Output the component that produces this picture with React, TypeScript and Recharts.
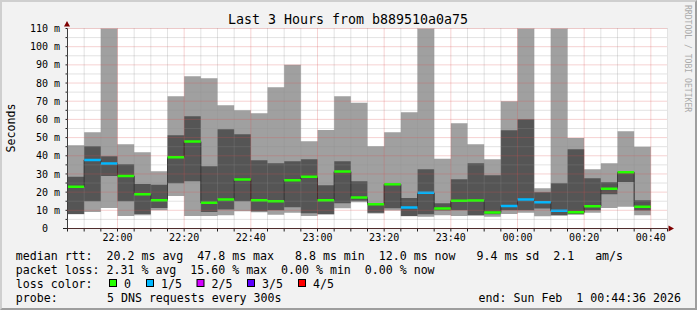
import { ComposedChart, Area, Line, XAxis, YAxis, CartesianGrid } from 'recharts'

const W = 697
const H = 310
const MONO = "'DejaVu Sans Mono', monospace"

const title = 'Last 3 Hours from b889510a0a75'
const startTime = '21:45'
const endTime = '00:45'
const stepMin = 5

// one 5 minute slot per bar, start times
const slots = [
  '21:45', '21:50', '21:55', '22:00', '22:05', '22:10', '22:15', '22:20', '22:25',
  '22:30', '22:35', '22:40', '22:45', '22:50', '22:55', '23:00', '23:05', '23:10',
  '23:15', '23:20', '23:25', '23:30', '23:35', '23:40', '23:45', '23:50', '23:55',
  '00:00', '00:05', '00:10', '00:15', '00:20', '00:25', '00:30', '00:35',
]

// sorted pings per slot (ms): min, 2nd, median, 4th, max
const pingMin = [
  7.8, 9.1, 11.3, 6.9, 7.3, 10.1, 17.9, 6.9, 6.9, 7.3, 9.5, 9.0, 7.5, 8.6, 6.9, 7.8, 11.2, 14.5,
  8.2, 9.9, 6.8, 6.4, 7.3, 6.9, 7.2, 6.4, 8.0, 8.6, 6.8, 7.2, 7.7, 8.6, 11.3, 11.9, 7.3,
]
const pingLow = [
  8.0, 15.0, 28.9, 15.0, 8.0, 11.3, 24.9, 26.0, 9.1, 10.4, 15.0, 9.5, 10.1, 11.7, 8.4, 7.9, 13.9, 15.3,
  8.6, 11.2, 6.9, 7.9, 9.9, 10.1, 7.3, 7.9, 10.1, 10.1, 11.0, 7.3, 7.9, 10.1, 18.9, 25.6, 9.9,
]
const median = [
  22.9, 37.7, 35.7, 28.9, 18.9, 15.6, 39.2, 47.8, 14.1, 15.9, 26.9, 15.6, 15.0, 26.6, 28.4, 15.6, 31.3, 17.1,
  13.3, 24.3, 11.5, 19.6, 11.0, 15.2, 15.4, 8.8, 12.4, 15.9, 14.5, 9.7, 8.9, 12.3, 21.8, 30.9, 12.0,
]
const pingHigh = [
  28.4, 45.3, 39.8, 35.4, 24.5, 24.0, 51.3, 61.8, 34.3, 54.6, 51.9, 37.6, 35.9, 37.0, 38.1, 23.8, 37.0, 26.0,
  13.6, 24.5, 16.8, 32.6, 13.9, 27.1, 35.9, 29.3, 54.1, 60.1, 20.0, 24.9, 43.6, 27.7, 25.5, 31.2, 15.6,
]
const pingMax = [
  45.8, 53.0, 128, 46.4, 42.0, 31.5, 72.8, 83.8, 82.7, 67.8, 65.1, 63.4, 77.7, 90.0, 48.0, 54.2, 72.8, 69.1,
  45.3, 53.0, 64.0, 135, 38.3, 57.9, 46.4, 38.1, 70.0, 140, 22.2, 124, 49.8, 32.6, 35.9, 53.5, 44.9,
]
// lost pings out of 5
const lostPings = [
  0, 1, 1, 0, 0, 0, 0, 0, 0, 0, 0, 0, 0, 0, 0, 0, 0, 0,
  0, 0, 1, 1, 0, 0, 0, 0, 1, 1, 1, 1, 0, 0, 0, 0, 0,
]

const yTicks = [0, 5, 10, 15, 20, 25, 30, 35, 40, 45, 50, 55, 60, 65, 70, 75, 80, 85, 90, 95, 100, 105, 110]
const yMajor = [0, 10, 20, 30, 40, 50, 60, 70, 80, 90, 100, 110]
const timeLabels = ['22:00', '22:20', '22:40', '23:00', '23:20', '23:40', '00:00', '00:20', '00:40']

const lossLegend = ['0', '1/5', '2/5', '3/5', '4/5']
const lossColors = ['#26ff00', '#00b8ff', '#d400ff', '#5e00ff', '#ff0000']
const lossSwatchX = [109, 146, 196.5, 247, 298]

const statsLine = 'median rtt:  20.2 ms avg  47.8 ms max   8.8 ms min  12.0 ms now   9.4 ms sd  2.1   am/s'
const lossLine = 'packet loss: 2.31 % avg  15.60 % max  0.00 % min  0.00 % now'
const lossColorLabel = 'loss color:'
const probeLabel = 'probe:'
const probeText = '5 DNS requests every 300s'
const endText = 'end: Sun Feb  1 00:44:36 2026'

function toMin(hhmm: string) {
  const [h, m] = hhmm.split(':').map(Number)
  const [h0, m0] = startTime.split(':').map(Number)
  return (h * 60 + m - (h0 * 60 + m0) + 1440) % 1440
}

const totalMin = toMin(endTime)
const gridTimes = Array.from({ length: totalMin / stepMin + 1 }, (_, i) => i * stepMin)
const majorTimes = timeLabels.map(toMin)
const minorTimes = gridTimes.filter((t) => !majorTimes.includes(t))
const yMinor = yTicks.filter((v) => !yMajor.includes(v))

// two rows per slot so the smoke is drawn as steps, plus a break row for the loss colour lines
const rows: Record<string, number | number[] | undefined>[] = []
slots.forEach((s, i) => {
  const t0 = toMin(s)
  const t1 = t0 + stepMin
  const base = {
    smoke: [pingMin[i], pingMax[i]],
    core: [pingLow[i], pingHigh[i]],
    med: median[i],
  }
  const key = 'loss' + lostPings[i]
  rows.push({ t: t0, ...base, [key]: median[i] })
  rows.push({ t: t1, ...base, [key]: median[i] })
  rows.push({ t: t1, ...base })
})

const PLOT_TOP = 28.5
const PLOT_H = 200
const PLOT_LEFT = 67.5
const PLOT_W = 600
const PLOT_BOTTOM = PLOT_TOP + PLOT_H

function XTick({ x, payload }: { x?: number; payload?: { value: number } }) {
  const idx = majorTimes.indexOf(payload?.value ?? -1)
  if (idx < 0) return <g />
  return (
    <text x={x} y={241} textAnchor="middle" fontFamily={MONO} fontSize={10} fill="#000">
      {timeLabels[idx]}
    </text>
  )
}

function YTick({ y, payload }: { y?: number; payload?: { value: number } }) {
  const v = payload?.value ?? 0
  if (v % 10 !== 0) return <g />
  return (
    <text x={v === 0 ? 48 : 60} y={(y ?? 0) + 3.6} textAnchor="end" fontFamily={MONO} fontSize={10} fill="#000">
      {v === 0 ? '0' : `${v} m`}
    </text>
  )
}

export default function App() {
  const axisY = PLOT_BOTTOM
  const axisX = PLOT_LEFT - 0.5
  return (
    <div style={{ position: 'fixed', left: 0, top: 0, width: W, height: H, background: '#f2f2f2', overflow: 'hidden' }}>
      <div style={{ position: 'absolute', left: PLOT_LEFT, top: PLOT_TOP, width: PLOT_W, height: PLOT_H, background: '#fff' }} />
      <ComposedChart
        width={W}
        height={H}
        data={rows}
        margin={{ top: PLOT_TOP, right: W - PLOT_LEFT - PLOT_W, bottom: H - PLOT_BOTTOM - 20, left: 0 }}
        style={{ position: 'absolute', left: 0, top: 0 }}
      >
        <XAxis
          dataKey="t"
          type="number"
          domain={[0, totalMin]}
          ticks={gridTimes}
          interval={0}
          height={20}
          tickSize={3}
          allowDataOverflow
          axisLine={{ stroke: '#222' }}
          tickLine={{ stroke: '#222' }}
          tick={<XTick />}
        />
        <YAxis
          type="number"
          domain={[0, 110]}
          ticks={yTicks}
          interval={0}
          width={PLOT_LEFT}
          tickSize={2}
          allowDataOverflow
          axisLine={{ stroke: '#222' }}
          tickLine={{ stroke: '#222' }}
          tick={<YTick />}
        />
        <Area dataKey="smoke" type="linear" stroke="none" fill="#a0a0a0" fillOpacity={1} isAnimationActive={false} dot={false} activeDot={false} />
        <Area dataKey="core" type="linear" stroke="none" fill="#555555" fillOpacity={1} isAnimationActive={false} dot={false} activeDot={false} />
        <Line dataKey="med" type="linear" stroke="#202020" strokeWidth={1} dot={false} activeDot={false} isAnimationActive={false} />
        {lossColors.map((c, i) => (
          <Line
            key={c}
            dataKey={'loss' + i}
            type="linear"
            stroke={c}
            strokeWidth={2.5}
            dot={false}
            activeDot={false}
            isAnimationActive={false}
          />
        ))}
        {/* rrdtool draws the grid over the graph */}
        <CartesianGrid
          horizontalValues={yMinor}
          verticalValues={minorTimes}
          stroke="#8f8f8f"
          strokeOpacity={0.5}
          strokeDasharray="1 1"
          zIndex={2000}
        />
        <CartesianGrid
          horizontalValues={yMajor}
          verticalValues={majorTimes}
          stroke="#de5050"
          strokeOpacity={0.5}
          strokeDasharray="1 1"
          zIndex={2001}
        />
      </ComposedChart>
      <svg width={W} height={H} style={{ position: 'absolute', left: 0, top: 0, pointerEvents: 'none' }} fontFamily={MONO}>
        <text x={348} y={24} textAnchor="middle" fontSize={13.3} fill="#000">{title}</text>
        <text transform="translate(15,128) rotate(-90)" textAnchor="middle" fontSize={11.6} fill="#000">Seconds</text>
        <text transform="translate(685,5) rotate(90)" fontSize={8.1} fill="#aaa">RRDTOOL / TOBI OETIKER</text>
        <polygon points={`${axisX - 3},${PLOT_TOP - 2} ${axisX + 3},${PLOT_TOP - 2} ${axisX},${PLOT_TOP - 7.5}`} fill="#7f0000" />
        <polygon points={`${PLOT_LEFT + PLOT_W + 1},${axisY - 3} ${PLOT_LEFT + PLOT_W + 1},${axisY + 3} ${PLOT_LEFT + PLOT_W + 6.5},${axisY}`} fill="#7f0000" />
        <line x1={63} y1={axisY} x2={PLOT_LEFT} y2={axisY} stroke="#222" />
        <text x={15.8} y={260} fontSize={11.6} fill="#000" style={{ whiteSpace: 'pre' }}>{statsLine}</text>
        <text x={15.8} y={274} fontSize={11.6} fill="#000" style={{ whiteSpace: 'pre' }}>{lossLine}</text>
        <text x={15.8} y={288} fontSize={11.6} fill="#000">{lossColorLabel}</text>
        {lossLegend.map((l, i) => (
          <g key={l}>
            <rect x={lossSwatchX[i] + 0.5} y={279.5} width={7} height={7} fill={lossColors[i]} stroke="#000" />
            <text x={lossSwatchX[i] + 15} y={288} fontSize={11.6} fill="#000">{l}</text>
          </g>
        ))}
        <text x={15.8} y={302} fontSize={11.6} fill="#000">{probeLabel}</text>
        <text x={107} y={302} fontSize={11.6} fill="#000">{probeText}</text>
        <text x={681} y={302} textAnchor="end" fontSize={11.6} fill="#000" style={{ whiteSpace: 'pre' }}>{endText}</text>
      </svg>
      <div
        style={{
          position: 'absolute',
          left: 0,
          top: 0,
          width: W,
          height: H,
          boxSizing: 'border-box',
          borderTop: '2px solid #cfcfcf',
          borderLeft: '2px solid #cfcfcf',
          borderBottom: '2px solid #9e9e9e',
          borderRight: '2px solid #9e9e9e',
          pointerEvents: 'none',
        }}
      />
    </div>
  )
}
